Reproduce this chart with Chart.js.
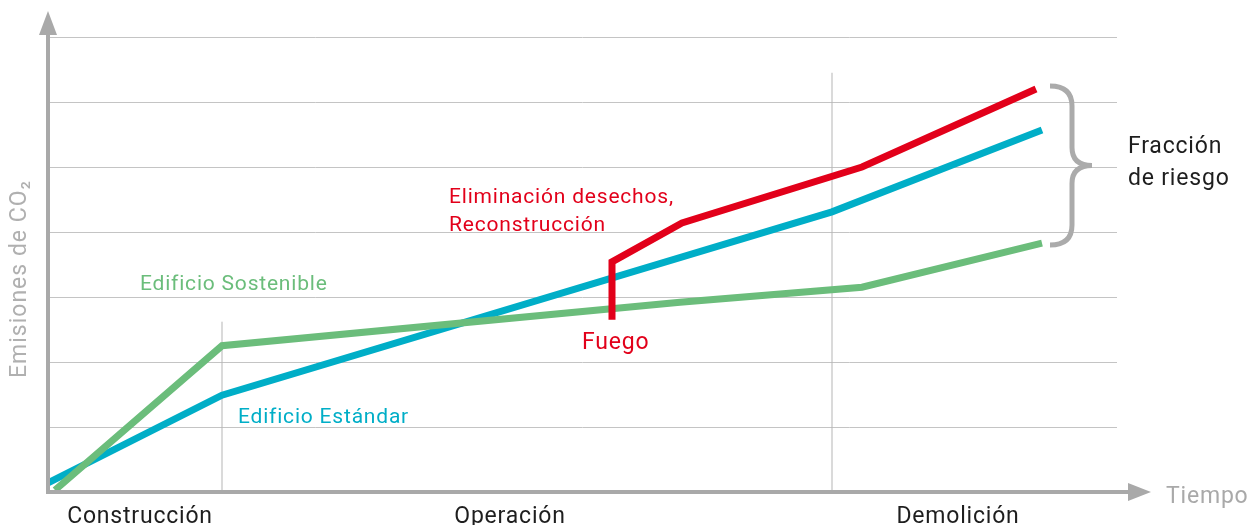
<!DOCTYPE html>
<html>
<head>
<meta charset="utf-8">
<script src="https://cdn.jsdelivr.net/npm/chart.js@4"></script>
<style>
  html, body { margin: 0; padding: 0; background: #fff; }
  canvas { display: block; }
</style>
</head>
<body>
<canvas id="grafico" width="1253" height="525"></canvas>
<script>
// fases (etiquetas del eje x) y su posición en tiempo
const fases = ['Construcción', 'Operación', 'Demolición'];
const posFases = [0.92, 4.62, 9.1];

// series de emisiones (x = tiempo, y = CO2)
const tiempoEstandar = [0, 1.74, 7.84, 9.94];
const estandar = [0.14, 1.49, 4.31, 5.57];

const tiempoSostenible = [0.07, 1.74, 6.32, 8.14, 9.94];
const sostenible = [0.03, 2.25, 2.92, 3.15, 3.83];

const tiempoFuego = [5.64, 5.64, 6.34, 8.14, 9.88];
const fuego = [2.65, 3.54, 4.14, 5.0, 6.2];

// líneas verticales de separación entre fases
const separadores = [[1.74, 0, 2.62], [7.84, 0, 6.45]];

const GRIS = '#a9a9a9';
const VERDE = '#6bbd7b';
const AZUL = '#00aec7';
const ROJO = '#e2001a';

function puntos(xs, ys) {
  return xs.map((x, i) => ({ x: x, y: ys[i] }));
}

const datasets = [
  { data: puntos(tiempoFuego, fuego), borderColor: ROJO },
  { data: puntos(tiempoSostenible, sostenible), borderColor: VERDE },
  { data: puntos(tiempoEstandar, estandar), borderColor: AZUL },
].map(d => Object.assign(d, { borderWidth: 7, pointRadius: 0, tension: 0, borderJoinStyle: 'miter' }));

separadores.forEach(s => {
  datasets.push({
    data: [{ x: s[0], y: s[1] }, { x: s[0], y: s[2] }],
    borderColor: '#b5b5b5', borderWidth: 1, pointRadius: 0
  });
});

function texto(ctx, str, x, y, color, size, align) {
  ctx.fillStyle = color;
  ctx.font = size + 'px Roboto';
  ctx.textAlign = align || 'left';
  ctx.textBaseline = 'middle';
  ctx.fillText(str, x, y);
}

const anotaciones = {
  id: 'anotaciones',
  beforeDraw(chart) {
    // la tipografía original es más espaciada
    chart.ctx.letterSpacing = '0.8px';
  },
  afterDraw(chart) {
    const ctx = chart.ctx;
    const a = chart.chartArea;
    const xs = chart.scales.x, ys = chart.scales.y;
    ctx.save();

    // ejes con flechas
    ctx.strokeStyle = GRIS;
    ctx.fillStyle = GRIS;
    ctx.lineWidth = 4;
    ctx.beginPath();
    ctx.moveTo(a.left, a.bottom + 2);
    ctx.lineTo(a.left, 30);
    ctx.moveTo(a.left - 2, a.bottom);
    ctx.lineTo(1132, a.bottom);
    ctx.stroke();
    ctx.beginPath();
    ctx.moveTo(a.left, 11);
    ctx.lineTo(a.left - 9, 35);
    ctx.lineTo(a.left + 9, 35);
    ctx.closePath();
    ctx.fill();
    ctx.beginPath();
    ctx.moveTo(1151, a.bottom);
    ctx.lineTo(1128, a.bottom - 9);
    ctx.lineTo(1128, a.bottom + 9);
    ctx.closePath();
    ctx.fill();

    // llave "fracción de riesgo"
    const yTop = ys.getPixelForValue(fuego[fuego.length - 1]) - 3;
    const yBot = ys.getPixelForValue(sostenible[sostenible.length - 1]) + 2;
    const yMid = (yTop + yBot) / 2;
    const bx = xs.getPixelForValue(10.02), cx = bx + 22, px = bx + 42;
    ctx.lineWidth = 5;
    ctx.strokeStyle = '#ababab';
    ctx.beginPath();
    ctx.moveTo(bx, yTop);
    ctx.quadraticCurveTo(cx, yTop, cx, yTop + 20);
    ctx.lineTo(cx, yMid - 18);
    ctx.quadraticCurveTo(cx, yMid, px, yMid);
    ctx.quadraticCurveTo(cx, yMid, cx, yMid + 18);
    ctx.lineTo(cx, yBot - 20);
    ctx.quadraticCurveTo(cx, yBot, bx, yBot);
    ctx.stroke();

    texto(ctx, 'Fracción', 1128, 147, '#1e1e1e', 23);
    texto(ctx, 'de riesgo', 1128, 179, '#1e1e1e', 23);
    texto(ctx, 'Tiempo', 1166, 497, GRIS, 23);

    texto(ctx, 'Edificio Sostenible', 140, 285, VERDE, 21);
    texto(ctx, 'Edificio Estándar', 238, 418, AZUL, 21);
    texto(ctx, 'Eliminación desechos,', 449, 198, ROJO, 21);
    texto(ctx, 'Reconstrucción', 449, 226, ROJO, 21);
    texto(ctx, 'Fuego', 582, 343, ROJO, 23);

    // título del eje y
    ctx.translate(20, 279);
    ctx.rotate(-Math.PI / 2);
    ctx.letterSpacing = '1px';
    texto(ctx, 'Emisiones de CO₂', 0, 0, '#b0b0b0', 23, 'center');
    ctx.restore();
  }
};

new Chart(document.getElementById('grafico'), {
  type: 'line',
  data: { datasets: datasets },
  options: {
    responsive: false,
    animation: false,
    layout: { padding: { top: 37, right: 136, left: 0, bottom: 0 } },
    plugins: { legend: { display: false }, tooltip: { enabled: false } },
    scales: {
      x: {
        type: 'linear',
        min: 0,
        max: 10.69,
        afterFit: s => { s.height = 33; },
        afterBuildTicks: s => { s.ticks = posFases.map(v => ({ value: v })); },
        grid: { display: false },
        border: { display: false },
        ticks: {
          autoSkip: false,
          maxRotation: 0,
          padding: 3,
          color: '#1e1e1e',
          font: { family: 'Roboto', size: 23 },
          callback: (v, i) => fases[i]
        }
      },
      y: {
        min: 0,
        max: 7,
        afterFit: s => { s.width = 48; },
        grid: { color: '#c4c4c4', lineWidth: 1, drawTicks: false },
        border: { display: false },
        ticks: { display: false, stepSize: 1 }
      }
    }
  },
  plugins: [anotaciones]
});
</script>
</body>
</html>
